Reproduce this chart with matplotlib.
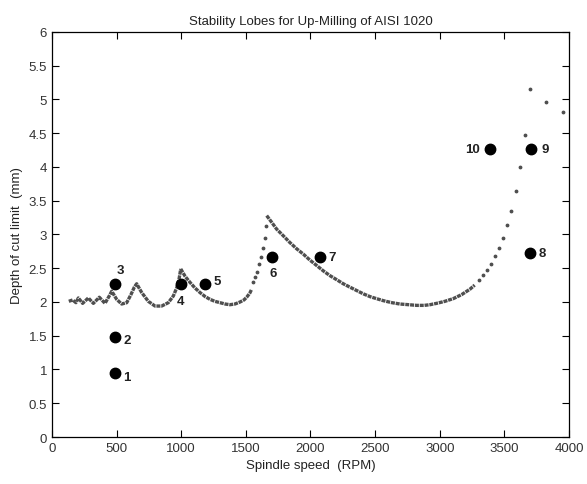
import matplotlib
matplotlib.use('Agg')
import matplotlib.pyplot as plt

plt.rcParams['font.family'] = ['Liberation Sans', 'DejaVu Sans']

# stability lobe envelope (spindle speed RPM, depth mm)
# dense parts (drawn as a thick dotted trace)
lobe_low_rpm = [130, 160, 185, 204, 237, 281, 320, 366, 410, 449, 462, 500, 539, 578,
                611, 637, 655, 694, 745, 797, 848, 900, 939, 965, 983, 996]
lobe_low_depth = [2.01, 2.03, 1.99, 2.06, 1.98, 2.06, 1.98, 2.07, 1.98, 2.11, 2.16, 2.04,
                  1.97, 1.99, 2.11, 2.22, 2.27, 2.14, 2.01, 1.94, 1.94, 1.99, 2.09,
                  2.21, 2.34, 2.49]

lobe_mid_rpm = [996, 1030, 1068, 1105, 1145, 1185, 1222, 1260, 1300, 1340, 1377,
                1415, 1455, 1485, 1506, 1530, 1545]
lobe_mid_depth = [2.49, 2.38, 2.29, 2.21, 2.14, 2.08, 2.04, 2.01, 1.99, 1.97, 1.96,
                  1.97, 2.00, 2.03, 2.07, 2.13, 2.19]

lobe_big_rpm = [1661, 1700, 1738, 1790, 1841, 1892, 1944, 1996, 2048, 2100, 2151,
                2203, 2254, 2305, 2357, 2410, 2460, 2510, 2563, 2630, 2692, 2760,
                2821, 2880, 2925, 2976, 3040, 3105, 3170, 3234, 3270]
lobe_big_depth = [3.28, 3.18, 3.08, 2.98, 2.88, 2.79, 2.71, 2.62, 2.54, 2.46, 2.39,
                  2.33, 2.27, 2.22, 2.17, 2.12, 2.08, 2.05, 2.02, 1.99, 1.97, 1.96,
                  1.95, 1.95, 1.96, 1.98, 2.01, 2.05, 2.11, 2.19, 2.25]

# sparse (steep) parts, single dots
steep_rpm = [1553, 1571, 1587, 1604, 1619, 1635, 1648, 1658,
             3306, 3337, 3368, 3397, 3428, 3456, 3492, 3523, 3554, 3593, 3621,
             3660, 3698, 3820, 3951]
steep_depth = [2.29, 2.37, 2.45, 2.56, 2.67, 2.80, 2.95, 3.13,
               2.33, 2.40, 2.48, 2.57, 2.68, 2.80, 2.95, 3.14, 3.35, 3.64, 4.00,
               4.48, 5.16, 4.96, 4.81]

# test points
test_labels = ['1', '2', '3', '4', '5', '6', '7', '8', '9', '10']
test_rpm = [485, 485, 485, 995, 1185, 1700, 2070, 3700, 3710, 3390]
test_depth = [0.95, 1.48, 2.27, 2.26, 2.27, 2.67, 2.67, 2.73, 4.26, 4.26]
label_offsets = [(9, -3), (9, -2), (4, 10), (0, -12), (9, 2), (1, -12),
                 (9, 0), (9, 0), (10, 0), (-13, 0)]

fig = plt.figure(figsize=(5.87, 4.85), dpi=100)
ax = fig.add_axes([0.0886, 0.0969, 0.8807, 0.8351])

curve_color = '#4f4f4f'
for r, d in [(lobe_low_rpm, lobe_low_depth), (lobe_mid_rpm, lobe_mid_depth),
             (lobe_big_rpm, lobe_big_depth)]:
    ax.plot(r, d, color=curve_color, lw=2.4, linestyle=(0, (1.2, 0.25)))
ax.plot(steep_rpm, steep_depth, '.', color=curve_color, markersize=3.5)

ax.plot(test_rpm, test_depth, 'o', color='black', markersize=7.5)
for lab, r, d, off in zip(test_labels, test_rpm, test_depth, label_offsets):
    ax.annotate(lab, (r, d), xytext=off, textcoords='offset points',
                ha='center', va='center', fontsize=9.5, fontweight='bold',
                color='#222222')

ax.set_xlim(0, 4000)
ax.set_ylim(0, 6)
ax.set_xticks(range(0, 4001, 500))
ax.set_yticks([i * 0.5 for i in range(13)])
ax.set_yticklabels(['0', '0.5', '1', '1.5', '2', '2.5', '3', '3.5', '4', '4.5',
                    '5', '5.5', '6'])
ax.tick_params(direction='in', top=True, right=True, length=5, labelsize=9.5,
               labelcolor='#333333')
for s in ax.spines.values():
    s.set_linewidth(0.9)

ax.set_title('Stability Lobes for Up-Milling of AISI 1020', fontsize=9.5, color='#222222')
ax.set_xlabel('Spindle speed  (RPM)', fontsize=9.5, color='#222222')
ax.set_ylabel('Depth of cut limit  (mm)', fontsize=9.5, color='#222222')

fig.savefig('out.png', dpi=100)
